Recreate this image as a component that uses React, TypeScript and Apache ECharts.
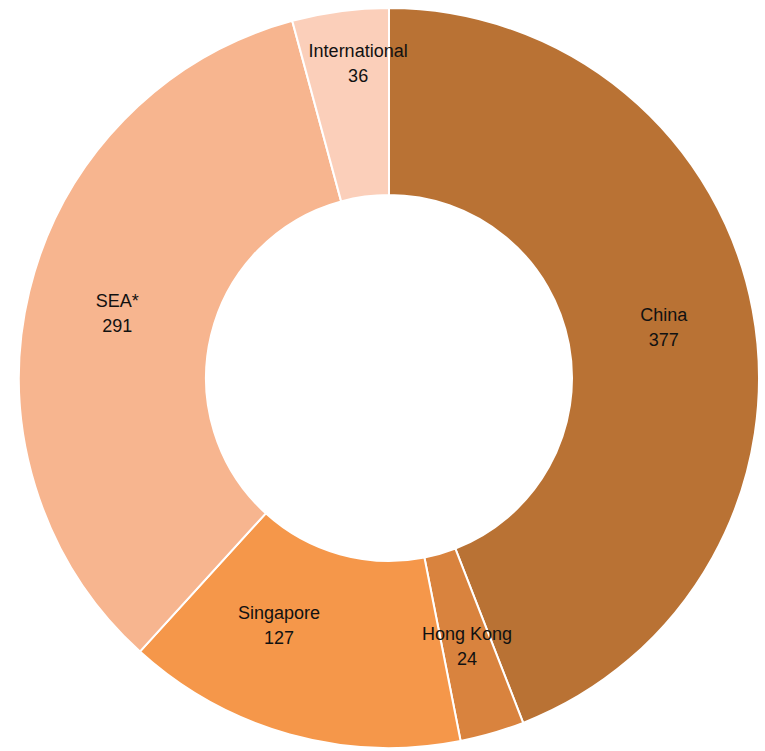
import React, { useEffect, useRef } from "react";
import * as echarts from "echarts";

const categories = ["China", "Hong Kong", "Singapore", "SEA*", "International"];
const values = [377, 24, 127, 291, 36];
const colors = ["#B97234", "#D9833E", "#F5974A", "#F7B58F", "#FBCFBA"];
const labelOffsets: [number, number][] = [[0, 1], [0, 0], [-35, -22], [0, 1], [6, -37]];

export default function App() {
  const ref = useRef<HTMLDivElement>(null);
  useEffect(() => {
    const chart = echarts.init(ref.current!, null, { renderer: "svg" });
    chart.setOption({
      animation: false,
      backgroundColor: "#ffffff",
      series: [
        {
          type: "pie",
          center: [389, 378],
          radius: [183, 370],
          startAngle: 90,
          clockwise: true,
          avoidLabelOverlap: false,
          itemStyle: { borderColor: "#ffffff", borderWidth: 2 },
          label: {
            show: true,
            position: "inside",
            formatter: "{b}\n{c}",
            color: "#111111",
            fontFamily: "'Liberation Sans Narrow', 'Arial Narrow', 'Liberation Sans', Arial, sans-serif",
            fontSize: 18,
            lineHeight: 25,
          },
          labelLine: { show: false },
          data: categories.map((name, i) => ({
            name,
            value: values[i],
            itemStyle: { color: colors[i] },
            label: { offset: labelOffsets[i] },
          })),
        },
      ],
    });
    return () => chart.dispose();
  }, []);
  return (
    <div
      ref={ref}
      style={{ position: "fixed", left: 0, top: 0, width: 765, height: 751 }}
    />
  );
}
